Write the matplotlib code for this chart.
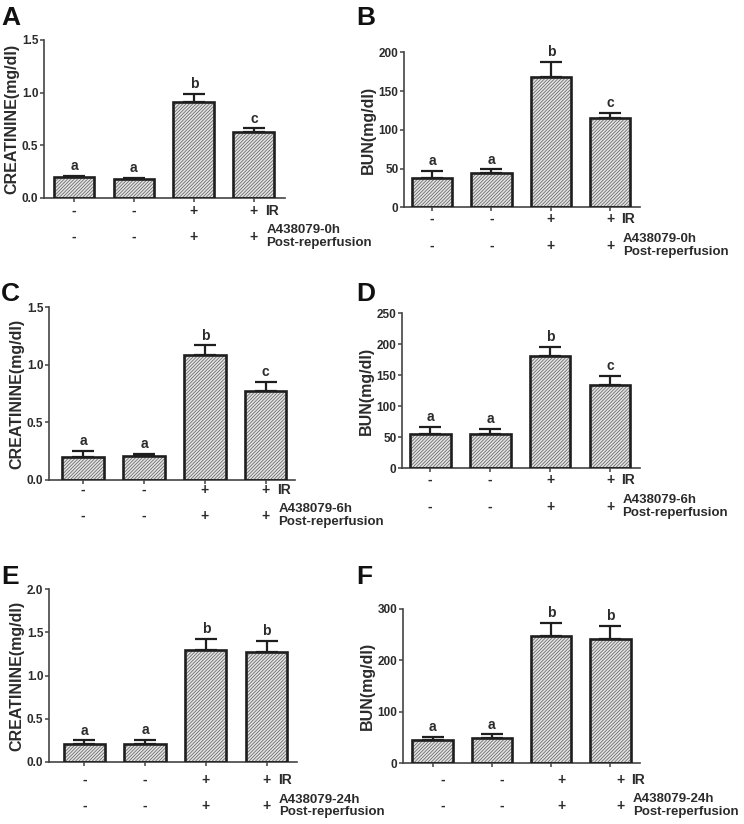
import matplotlib.pyplot as plt
from matplotlib.ticker import FormatStrFormatter

plt.rcParams['font.family'] = ['Liberation Sans', 'DejaVu Sans']
plt.rcParams['font.weight'] = 'bold'
plt.rcParams['hatch.linewidth'] = 0.6

ir_signs = ['-', '-', '+', '+']
drug_signs = ['-', '-', '+', '+']

creat_0h = [0.20, 0.18, 0.91, 0.63]
creat_0h_err = [0.01, 0.01, 0.08, 0.03]
bun_0h = [38, 44, 168, 115]
bun_0h_err = [9, 5, 20, 7]

creat_6h = [0.20, 0.21, 1.09, 0.77]
creat_6h_err = [0.05, 0.02, 0.08, 0.08]
bun_6h = [55, 55, 181, 135]
bun_6h_err = [12, 9, 15, 14]

creat_24h = [0.21, 0.21, 1.30, 1.27]
creat_24h_err = [0.04, 0.05, 0.13, 0.13]
bun_24h = [46, 49, 247, 242]
bun_24h_err = [6, 7, 25, 24]

letters_0h = ['a', 'a', 'b', 'c']
letters_6h = ['a', 'a', 'b', 'c']
letters_24h = ['a', 'a', 'b', 'b']

TXT = '#2b2b2b'
W, H = 744, 824


def box(l, r, b, t):
    # pixel box -> figure fraction
    return [l / W, 1 - b / H, (r - l) / W, (b - t) / H]


def panel(fig, rect, vals, errs, letters, ylabel, ymax, ystep, fmt, drug,
          xlim, row1, row2, shift=0):
    ax = fig.add_axes(rect)
    x = range(len(vals))
    # hatched fill, then black outline on top
    ax.bar(x, vals, width=0.68, color='#e4e4e4', edgecolor='#6e6e6e',
           hatch='/' * 10, linewidth=0, zorder=2)
    ax.bar(x, vals, width=0.68, fill=False, edgecolor='#1e1e1e',
           linewidth=1.9, zorder=3)
    ax.errorbar(x, vals, yerr=[[0] * len(vals), errs], fmt='none',
                ecolor='#1e1e1e', elinewidth=1.6, capsize=8, capthick=1.6,
                zorder=1)
    for i, (v, e, s) in enumerate(zip(vals, errs, letters)):
        ax.annotate(s, (i, v + e), xytext=(0, 2), textcoords='offset points',
                    ha='center', va='bottom', fontsize=10, color=TXT)
    ax.set_xlim(*xlim)
    ax.set_ylim(0, ymax)
    ax.set_yticks([k * ystep for k in range(int(round(ymax / ystep)) + 1)])
    ax.yaxis.set_major_formatter(FormatStrFormatter(fmt))
    ax.set_xticks(list(x))
    ax.set_xticklabels([])
    ax.tick_params(axis='both', direction='out', length=3, width=1.1,
                   color='#444444', labelsize=8.5, labelcolor=TXT, pad=1)
    for t in ax.get_yticklabels():
        t.set_fontweight('bold')
    ax.spines['top'].set_visible(False)
    ax.spines['right'].set_visible(False)
    for s in ['left', 'bottom']:
        ax.spines[s].set_linewidth(1.2)
        ax.spines[s].set_color('#444444')
    ax.set_ylabel(ylabel, fontsize=11.5, fontweight='bold', color=TXT,
                  labelpad=2)
    dx = shift * 0.72
    for i in x:
        ax.annotate(ir_signs[i], (i, 0), xycoords=('data', 'axes fraction'),
                    xytext=(dx, -row1 * 0.72), textcoords='offset points',
                    ha='center', va='center', fontsize=10, color=TXT)
        ax.annotate(drug_signs[i], (i, 0), xycoords=('data', 'axes fraction'),
                    xytext=(dx, -row2 * 0.72), textcoords='offset points',
                    ha='center', va='center', fontsize=10, color=TXT)
    last = len(vals) - 1
    ax.annotate('IR', (last, 0), xycoords=('data', 'axes fraction'),
                xytext=(dx + 8, -row1 * 0.72), textcoords='offset points',
                ha='left', va='center', fontsize=10, color=TXT)
    ax.annotate(drug + '\nPost-reperfusion', (last, 0),
                xycoords=('data', 'axes fraction'),
                xytext=(dx + 9, -row2 * 0.72), textcoords='offset points',
                ha='left', va='center', fontsize=9.5, color=TXT,
                linespacing=1.05, annotation_clip=False)
    return ax


fig = plt.figure(figsize=(7.44, 8.24), dpi=100)

panel(fig, box(44, 285, 198, 40), creat_0h, creat_0h_err, letters_0h,
      'CREATININE(mg/dl)', 1.5, 0.5, '%.1f', 'A438079-0h',
      (-0.5, 3.52), 12.7, 38.7)
panel(fig, box(404, 640, 207.3, 52.3), bun_0h, bun_0h_err, letters_0h,
      'BUN(mg/dl)', 200, 50, '%d', 'A438079-0h',
      (-0.47, 3.5), 11.7, 38.4)
panel(fig, box(49, 295, 480, 307.3), creat_6h, creat_6h_err, letters_6h,
      'CREATININE(mg/dl)', 1.5, 0.5, '%.1f', 'A438079-6h',
      (-0.56, 3.48), 10, 35.7)
panel(fig, box(402, 640, 468.3, 313.3), bun_6h, bun_6h_err, letters_6h,
      'BUN(mg/dl)', 250, 50, '%d', 'A438079-6h',
      (-0.47, 3.5), 11.7, 38.4)
panel(fig, box(49, 297, 762, 589.3), creat_24h, creat_24h_err, letters_24h,
      'CREATININE(mg/dl)', 2.0, 0.5, '%.1f', 'A438079-24h',
      (-0.58, 3.5), 18, 44)
panel(fig, box(403, 640, 763.3, 608.7), bun_24h, bun_24h_err, letters_24h,
      'BUN(mg/dl)', 300, 100, '%d', 'A438079-24h',
      (-0.5, 3.5), 16.7, 42.4, shift=10)

for s, px, py in [('A', 1, 6), ('B', 356, 6), ('C', 1, 282),
                  ('D', 356, 282), ('E', 1, 565), ('F', 356, 565)]:
    fig.text(px / W, 1 - py / H, s, fontsize=19, fontweight='bold',
             color='#111111', ha='left', va='top')

fig.savefig('out.png', dpi=100)
